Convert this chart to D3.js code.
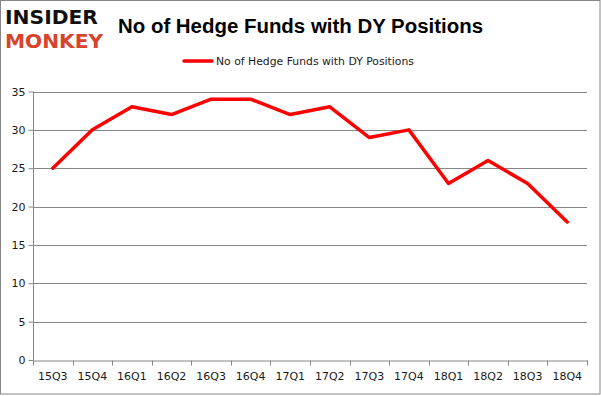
<!DOCTYPE html>
<html>
<head>
<meta charset="utf-8">
<script src="https://cdn.jsdelivr.net/npm/d3@7"></script>
<style>
  body { margin: 0; background: #fff; }
  svg { display: block; }
</style>
</head>
<body>
<svg id="chart" width="601" height="396"></svg>
<script>
const categories = ["15Q3","15Q4","16Q1","16Q2","16Q3","16Q4","17Q1","17Q2","17Q3","17Q4","18Q1","18Q2","18Q3","18Q4"];
const values = [25, 30, 33, 32, 34, 34, 32, 33, 29, 30, 23, 26, 23, 18];
const yTicks = [0, 5, 10, 15, 20, 25, 30, 35];
const seriesName = "No of Hedge Funds with DY Positions";
const titleText = "No of Hedge Funds with DY Positions";

const svg = d3.select("#chart");
const W = 601, H = 396;
const margin = {left: 33, right: 14, top: 91.5, bottom: 36};

// outer border
svg.append("rect").attr("x", 0.5).attr("y", 0.5).attr("width", W - 1.5).attr("height", H - 2.5)
  .attr("fill", "none").attr("stroke", "#868686").attr("stroke-width", 1);

const x = d3.scaleBand().domain(categories).range([margin.left, W - margin.right]);
const y = d3.scaleLinear().domain([0, 35]).range([H - margin.bottom, margin.top]);

// gridlines
svg.append("g").selectAll("line").data(yTicks.filter(d => d > 0)).join("line")
  .attr("x1", margin.left).attr("x2", W - margin.right)
  .attr("y1", d => Math.round(y(d)) + 0.5).attr("y2", d => Math.round(y(d)) + 0.5)
  .attr("stroke", "#868686").attr("stroke-width", 1);

// y axis
const yAxis = svg.append("g").attr("transform", `translate(${margin.left + 0.5},0)`)
  .call(d3.axisLeft(y).tickValues(yTicks).tickSize(5).tickPadding(3).tickFormat(d3.format("d")));
yAxis.selectAll("line").attr("stroke", "#868686");
yAxis.select(".domain").attr("stroke", "#868686").attr("d", `M0,${y(35)}V${y(0)}`);
yAxis.selectAll("text").attr("font-family", "'DejaVu Sans', sans-serif").attr("font-size", 11).attr("fill", "#1a1a1a");

// x axis
const xAxis = svg.append("g").attr("transform", `translate(0,${Math.round(y(0)) + 0.5})`)
  .call(d3.axisBottom(x).tickSize(0).tickPadding(12));
xAxis.select(".domain").attr("stroke", "#868686");
xAxis.selectAll("text").attr("font-family", "'DejaVu Sans', sans-serif").attr("font-size", 11).attr("fill", "#1a1a1a");
// boundary ticks
const bounds = categories.map(c => x(c)).concat([x(categories[categories.length - 1]) + x.bandwidth()]);
xAxis.append("g").selectAll("line").data(bounds).join("line")
  .attr("x1", d => Math.round(d) + 0.5).attr("x2", d => Math.round(d) + 0.5)
  .attr("y1", 0).attr("y2", 5).attr("stroke", "#868686");

// line
const line = d3.line().x((d, i) => x(categories[i]) + x.bandwidth() / 2).y(d => y(d));
svg.append("path").datum(values).attr("d", line)
  .attr("fill", "none").attr("stroke", "#ff0000").attr("stroke-width", 3.5)
  .attr("stroke-linejoin", "round").attr("stroke-linecap", "round");

// title
svg.append("text").attr("x", 118).attr("y", 33).text(titleText)
  .attr("font-family", "'Liberation Sans', Arial, sans-serif").attr("font-weight", "bold")
  .attr("font-size", 20).attr("fill", "#000").attr("textLength", 365).attr("lengthAdjust", "spacingAndGlyphs");

// legend
svg.append("line").attr("x1", 184).attr("x2", 212).attr("y1", 61).attr("y2", 61)
  .attr("stroke", "#ff0000").attr("stroke-width", 3.5).attr("stroke-linecap", "round");
svg.append("text").attr("x", 216).attr("y", 65).text(seriesName)
  .attr("font-family", "'DejaVu Sans', sans-serif").attr("font-size", 11).attr("fill", "#1a1a1a")
  .attr("textLength", 198).attr("lengthAdjust", "spacingAndGlyphs");

// logo
svg.append("text").attr("x", 5).attr("y", 24).text("INSIDER")
  .attr("font-family", "'DejaVu Sans', sans-serif").attr("font-weight", "bold")
  .attr("font-size", 20).attr("fill", "#111").attr("textLength", 93).attr("lengthAdjust", "spacingAndGlyphs");
svg.append("text").attr("x", 5).attr("y", 48).text("MONKEY")
  .attr("font-family", "'DejaVu Sans', sans-serif").attr("font-weight", "bold")
  .attr("font-size", 20).attr("fill", "#d8432b").attr("textLength", 98).attr("lengthAdjust", "spacingAndGlyphs");
</script>
</body>
</html>
